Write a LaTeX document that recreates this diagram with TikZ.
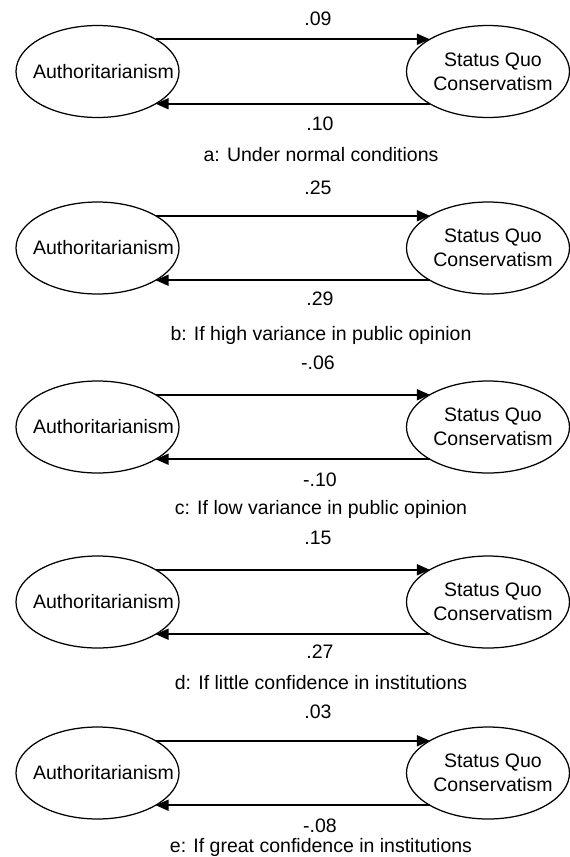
\documentclass[tikz,border=0pt]{standalone}
\usepackage{fontspec}
\setmainfont{Liberation Sans}
\usetikzlibrary{shapes.geometric,arrows.meta}
\begin{document}
\begin{tikzpicture}[x=1pt,y=-1pt,
  ell/.style={draw,ellipse,line width=1.25pt,minimum width=163pt,minimum height=92pt,inner sep=0pt,outer sep=0pt},
  lbl/.style={font=\fontsize{19.5}{23}\selectfont,inner sep=0pt,anchor=base},
  txt/.style={font=\fontsize{19.5}{24}\selectfont,inner sep=0pt,align=center},
  conn/.style={line width=1.8pt,-{Triangle[length=13pt,width=11pt]}}]
\useasboundingbox (0,0) rectangle (570,857);
% #1 id, #2 centre y, #3 top value, #4 its baseline, #5 bottom value, #6 its baseline, #7 caption, #8 its baseline
\newcommand\diagpanel[8]{%
  \node[ell] (L#1) at (97.5,#2) {};
  \node[ell] (R#1) at (488,#2) {};
  \node[txt] (LT#1) at ([xshift=6pt]L#1.center) {Authoritarianism};
  \node[txt] (RT#1) at ([xshift=5pt]R#1.center) {Status Quo\\Conservatism};
  \draw[conn] (L#1.29) -- (R#1.151);
  \draw[conn] (R#1.-151) -- (L#1.-29);
  \node[lbl] (TV#1) at (318,#4) {#3};
  \node[lbl] (BV#1) at (320,#6) {#5};
  \node[lbl] (CAP#1) at (321,#8) {#7};
}
\diagpanel{a}{71.5}{.09}{25.5}{.10}{130.5}{a: Under normal conditions}{161}
\diagpanel{b}{248}{.25}{194}{.29}{305.5}{b: If high variance in public opinion}{340.5}
\diagpanel{c}{427}{-.06}{369}{-.10}{486}{c: If low variance in public opinion}{514}
\diagpanel{d}{602}{.15}{544.5}{.27}{658}{d: If little confidence in institutions}{689}
\diagpanel{e}{773}{.03}{718.5}{-.08}{832}{e: If great confidence in institutions}{852}
\end{tikzpicture}
\end{document}
